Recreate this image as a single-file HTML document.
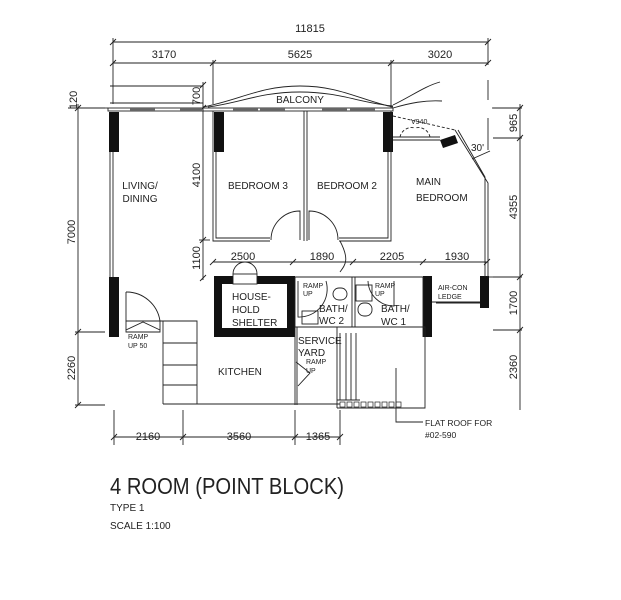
<!DOCTYPE html>
<html><head><style>
html,body{margin:0;padding:0;background:#fff;width:621px;height:600px;overflow:hidden}
text{font-family:"Liberation Sans",sans-serif;fill:#222}
</style></head><body>
<svg width="621" height="600" viewBox="0 0 621 600" xmlns="http://www.w3.org/2000/svg">
<g stroke="#222" stroke-width="0.9" fill="none">
<!-- top dims -->
<line x1="113" y1="42" x2="488" y2="42"/>
<line x1="113" y1="63" x2="488" y2="63"/>
<line x1="113" y1="38" x2="113" y2="104"/>
<line x1="488" y1="38" x2="488" y2="65"/>
<line x1="213" y1="60" x2="213" y2="104"/>
<line x1="391" y1="60" x2="391" y2="108"/>
<path d="M110 45l6-6M485 45l6-6M110 66l6-6M210 66l6-6M388 66l6-6M485 66l6-6"/>
<!-- left dims -->
<line x1="78" y1="104" x2="78" y2="405"/>
<line x1="68" y1="108" x2="105" y2="108"/>
<line x1="75" y1="332" x2="105" y2="332"/>
<line x1="75" y1="405" x2="105" y2="405"/>
<path d="M75 111l6-6M75 335l6-6M75 408l6-6"/>
<!-- inner vertical dim -->
<line x1="203" y1="82" x2="203" y2="280"/>
<path d="M200 88l6-6M200 111l6-6M200 243l6-6M200 281l6-6"/>
<line x1="199" y1="240" x2="210" y2="240"/>
<!-- right dims -->
<line x1="520" y1="104" x2="520" y2="410"/>
<line x1="493" y1="108" x2="522" y2="108"/>
<line x1="493" y1="138" x2="522" y2="138"/>
<line x1="493" y1="277" x2="522" y2="277"/>
<line x1="493" y1="330" x2="522" y2="330"/>
<path d="M517 111l6-6M517 141l6-6M517 280l6-6M517 333l6-6"/>
<line x1="488" y1="80" x2="488" y2="100"/>
<line x1="488" y1="118" x2="488" y2="150"/>
<!-- middle horizontal dim -->
<line x1="213" y1="262" x2="488" y2="262"/>
<path d="M210 265l6-6M290 265l6-6M350 265l6-6M420 265l6-6M484 265l6-6"/>
<!-- bottom dims -->
<line x1="114" y1="437" x2="340" y2="437"/>
<line x1="114" y1="410" x2="114" y2="445"/>
<line x1="183" y1="410" x2="183" y2="445"/>
<line x1="295" y1="410" x2="295" y2="445"/>
<line x1="340" y1="410" x2="340" y2="445"/>
<path d="M111 440l6-6M180 440l6-6M292 440l6-6M337 440l6-6"/>

<!-- balcony -->
<line x1="110" y1="86" x2="203" y2="86"/>
<line x1="110" y1="103" x2="203" y2="103"/>
<path d="M203 107C240 100 260 86 300 86S360 100 393 107"/>
<path d="M208 107C240 103 260 92 300 92S360 103 393 106"/>
<path d="M393 105C410 97 425 86 440 82"/>
<path d="M393 108C410 103 425 100 442 101"/>
<line x1="360" y1="86" x2="360" y2="86"/>
<!-- exterior top wall -->
<rect x="108" y="108" width="285" height="3"/>
<line x1="105" y1="108" x2="108" y2="108"/>
<line x1="492" y1="108" x2="500" y2="108"/>
<g fill="#666" stroke="none">
<rect x="130" y="108" width="25" height="3"/><rect x="180" y="108" width="22" height="3"/>
<rect x="233" y="108" width="25" height="3"/><rect x="260" y="108" width="25" height="3"/>
<rect x="322" y="108" width="25" height="3"/><rect x="350" y="108" width="25" height="3"/>
</g>
<!-- columns -->
<g fill="#111" stroke="none">
<rect x="109" y="112" width="10" height="40"/>
<rect x="214" y="112" width="10" height="40"/>
<rect x="383" y="112" width="10" height="40"/>
<rect x="109" y="277" width="10" height="60"/>
<polygon points="440,140 455,135 458,143 443,148"/>
<rect x="423" y="276" width="9" height="61"/>
<rect x="480" y="276" width="9" height="32"/>
<path d="M214 276h81v61h-81zM222 284v44h65v-44z" fill-rule="evenodd"/>
</g>
<rect x="233" y="274" width="24" height="10" fill="#fff" stroke="#222"/>
<path d="M233 274A12 12 0 0 1 257 274"/>
<!-- living left wall -->
<line x1="110" y1="152" x2="110" y2="277"/>
<line x1="113" y1="152" x2="113" y2="277"/>
<!-- bedrooms -->
<path d="M213 111V241H270M216 152V238H270"/>
<path d="M304 111V241M307 111V241"/>
<path d="M391 111V241H339M388 152V238H339"/>
<path d="M271 240A29 29 0 0 1 300 211V240"/>
<path d="M338 240A29 29 0 0 0 309 211V240"/>
<path d="M340 241 C350 260 345 265 340 272"/>
<!-- main bedroom -->
<line x1="393" y1="137" x2="440" y2="137"/>
<line x1="393" y1="140" x2="440" y2="140"/>
<path d="M393 116L455 130M400 137A12 12 0 0 1 415 128M430 137A12 12 0 0 0 415 128" stroke-dasharray="3 2"/>
<path d="M455 130L488 183V277M458 130L485 177V277"/>
<path d="M472 159L490 151"/>
<!-- corridor bottom line -->
<line x1="295" y1="277" x2="423" y2="277"/>
<line x1="489" y1="277" x2="500" y2="277"/>
<!-- bath 2 -->
<path d="M295 277V327H352V277M352 277V327"/>
<path d="M298 281V317A28 28 0 0 0 326 281"/>
<rect x="333" y="288" width="14" height="12" rx="6"/>
<rect x="302" y="311" width="16" height="13"/>
<!-- bath 1 -->
<path d="M355 277V327M423 277V337"/>
<rect x="356" y="285" width="16" height="16"/>
<rect x="358" y="303" width="14" height="13" rx="6"/>
<path d="M368 281A26 26 0 0 0 394 306V281"/>
<!-- aircon -->
<path d="M432 302H480M436 303L480 303"/>
<!-- kitchen / yard -->
<path d="M160 321H197V404M163 404H340"/>
<path d="M163 321V404"/>
<path d="M163 343H197M163 365H197M163 385H197"/>
<path d="M126 292A34 34 0 0 1 160 321H126V292"/>
<path d="M126 321H160V332H126z"/>
<path d="M126 330L143 322L160 330"/>
<path d="M295 327V405M297 327V405"/>
<path d="M297 327H337V408M352 327H425V408H337"/>
<path d="M340 333V400M346 333V400M351 333V400M356 333V400"/>
<path d="M337 400H360"/>
<path d="M296 362L310 373L298 386"/>
<g stroke-width="0.7">
<rect x="340" y="402" width="5" height="5"/><rect x="347" y="402" width="5" height="5"/><rect x="354" y="402" width="5" height="5"/><rect x="361" y="402" width="5" height="5"/><rect x="368" y="402" width="5" height="5"/><rect x="375" y="402" width="5" height="5"/><rect x="382" y="402" width="5" height="5"/><rect x="389" y="402" width="5" height="5"/><rect x="396" y="402" width="5" height="5"/>
</g>
<path d="M396 368V422H423"/>
</g>
<g font-size="11">
<text x="310" y="32" text-anchor="middle">11815</text>
<text x="164" y="58" text-anchor="middle">3170</text>
<text x="300" y="58" text-anchor="middle">5625</text>
<text x="440" y="58" text-anchor="middle">3020</text>
<text x="300" y="103" text-anchor="middle" font-size="10">BALCONY</text>
<text x="140" y="189" text-anchor="middle" font-size="10">LIVING/</text>
<text x="140" y="202" text-anchor="middle" font-size="10">DINING</text>
<text x="258" y="189" text-anchor="middle" font-size="10">BEDROOM 3</text>
<text x="347" y="189" text-anchor="middle" font-size="10">BEDROOM 2</text>
<text x="416" y="185" font-size="10">MAIN</text>
<text x="416" y="201" font-size="10">BEDROOM</text>
<text x="243" y="260" text-anchor="middle">2500</text>
<text x="322" y="260" text-anchor="middle">1890</text>
<text x="392" y="260" text-anchor="middle">2205</text>
<text x="457" y="260" text-anchor="middle">1930</text>
<text x="148" y="440" text-anchor="middle">2160</text>
<text x="239" y="440" text-anchor="middle">3560</text>
<text x="318" y="440" text-anchor="middle">1365</text>
<text x="232" y="300" font-size="10">HOUSE-</text>
<text x="232" y="313" font-size="10">HOLD</text>
<text x="232" y="326" font-size="10">SHELTER</text>
<text x="319" y="312" font-size="10">BATH/</text>
<text x="319" y="324" font-size="10">WC 2</text>
<text x="381" y="312" font-size="10">BATH/</text>
<text x="381" y="325" font-size="10">WC 1</text>
<text x="298" y="344" font-size="10">SERVICE</text>
<text x="298" y="356" font-size="10">YARD</text>
<text x="218" y="375" font-size="10">KITCHEN</text>
<text x="425" y="426" font-size="8.5">FLAT ROOF FOR</text>
<text x="425" y="438" font-size="8.5">#02-590</text>
<g font-size="7">
<text x="303" y="288">RAMP</text><text x="303" y="296">UP</text>
<text x="375" y="288">RAMP</text><text x="375" y="296">UP</text>
<text x="128" y="339">RAMP</text><text x="128" y="348">UP 50</text>
<text x="306" y="364">RAMP</text><text x="306" y="373">UP</text>
<text x="438" y="290">AIR-CON</text><text x="438" y="299">LEDGE</text>
<text x="411" y="124">V940</text>
</g>
<text x="471" y="151" font-size="10">30'</text>
<g font-size="11">
<text transform="translate(77,100) rotate(-90)" text-anchor="middle">120</text>
<text transform="translate(75,232) rotate(-90)" text-anchor="middle">7000</text>
<text transform="translate(75,368) rotate(-90)" text-anchor="middle">2260</text>
<text transform="translate(200,96) rotate(-90)" text-anchor="middle">700</text>
<text transform="translate(200,175) rotate(-90)" text-anchor="middle">4100</text>
<text transform="translate(200,258) rotate(-90)" text-anchor="middle">1100</text>
<text transform="translate(517,123) rotate(-90)" text-anchor="middle">965</text>
<text transform="translate(517,207) rotate(-90)" text-anchor="middle">4355</text>
<text transform="translate(517,303) rotate(-90)" text-anchor="middle">1700</text>
<text transform="translate(517,367) rotate(-90)" text-anchor="middle">2360</text>
</g>
</g>
<text x="110" y="494" font-size="23" textLength="234" lengthAdjust="spacingAndGlyphs" style="font-weight:300">4 ROOM (POINT BLOCK)</text>
<text x="110" y="511" font-size="10">TYPE 1</text>
<text x="110" y="529" font-size="10">SCALE 1:100</text>
</svg>
</body></html>
